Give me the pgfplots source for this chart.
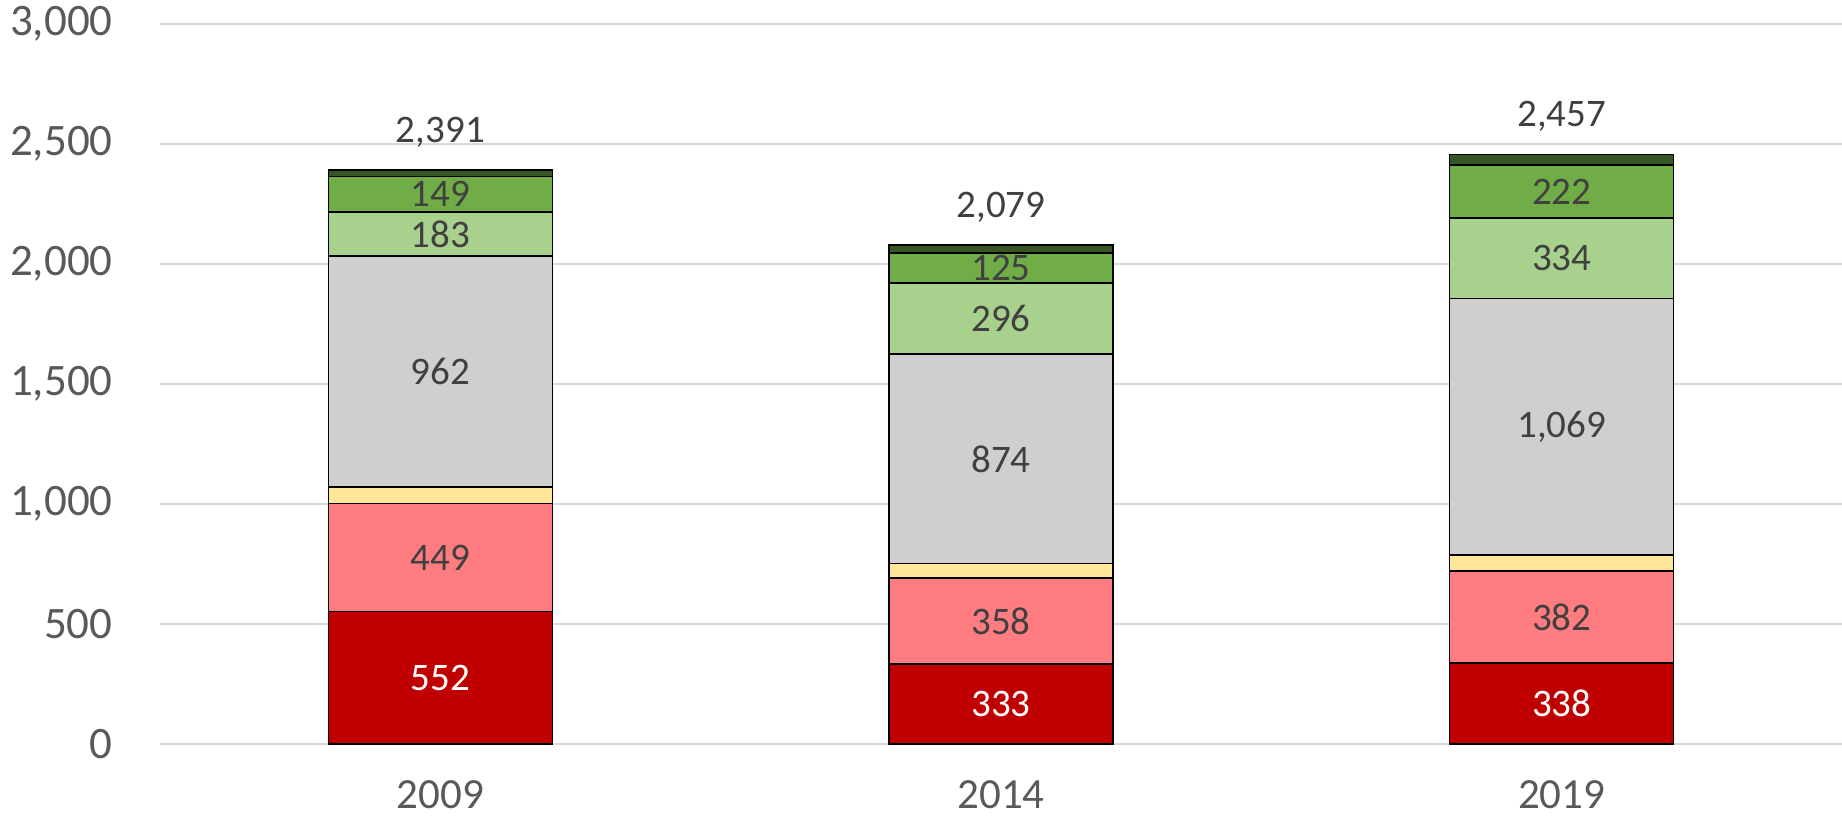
\documentclass[border=0pt]{standalone}
\usepackage{fontspec}
\setmainfont{Carlito}
\usepackage{pgfplots}
\pgfplotsset{compat=1.18}
\usepackage{pgfplotstable}

\definecolor{cDR}{HTML}{C00000}
\definecolor{cLR}{HTML}{FF7C80}
\definecolor{cYE}{HTML}{FFE699}
\definecolor{cGR}{HTML}{D0CECE}
\definecolor{cLG}{HTML}{A9D18E}
\definecolor{cGN}{HTML}{70AD47}
\definecolor{cDG}{HTML}{375623}
\definecolor{gridc}{HTML}{D9D9D9}
\definecolor{tickc}{HTML}{595959}
\definecolor{labc}{HTML}{404040}

\pgfplotstableread{
x dr lr ye gr lg gn dg
0 552 449 70 962 183 149 26
1 333 358 60 874 296 125 33
2 338 382 68 1069 334 222 44
}\data

% segment labels (value, centre of segment)
\pgfplotstableread{
x y v
0 776.5 449
0 1552 962
0 2124.5 183
0 2290.5 149
1 512 358
1 1188 874
1 1773 296
1 1983.5 125
2 529 382
2 1322.5 1069
2 2024 334
2 2302 222
}\labs

\pgfplotstableread{
x y v
0 276 552
1 166.5 333
2 169 338
}\wlabs

\pgfplotstableread{
x y
0 2391
1 2079
2 2457
}\totals

\pgfplotsset{
  /pgf/number format/.cd, 1000 sep={,}, assume math mode=true,
  /pgfplots/.cd,
  base/.style={width=841pt, height=360pt, scale only axis, at={(0,0)}, anchor=south west,
    xmin=-0.5, xmax=2.5, ymin=0, ymax=3000, clip=false},
}

\begin{document}
\begin{tikzpicture}
\begin{axis}[base,
  ybar stacked, bar width=112pt,
  ytick={0,500,...,3000},
  xtick={0,1,2}, xticklabels={2009,2014,2019},
  ymajorgrids, grid style={draw=gridc, line width=1pt},
  axis line style={draw=none},
  major tick length=0pt,
  tick label style={text=tickc},
  yticklabel style={font=\fontsize{22.5}{25}\selectfont, inner sep=0pt, anchor=east, xshift=-23.5pt},
  xticklabel style={font=\fontsize{21.5}{24}\selectfont, inner sep=0pt, anchor=north, yshift=-18pt},
]
\addplot[fill=cDR, draw=black, line width=0.7pt] table[x=x,y=dr]{\data};
\addplot[fill=cLR, draw=black, line width=0.7pt] table[x=x,y=lr]{\data};
\addplot[fill=cYE, draw=black, line width=0.7pt] table[x=x,y=ye]{\data};
\addplot[fill=cGR, draw=black, line width=0.7pt] table[x=x,y=gr]{\data};
\addplot[fill=cLG, draw=black, line width=0.7pt] table[x=x,y=lg]{\data};
\addplot[fill=cGN, draw=black, line width=0.7pt] table[x=x,y=gn]{\data};
\addplot[fill=cDG, draw=black, line width=0.7pt] table[x=x,y=dg]{\data};
\end{axis}
\begin{axis}[base, hide axis]
\addplot[draw=none, mark=none, nodes near coords, point meta=explicit,
  every node near coord/.append style={anchor=center, inner sep=0pt, text=labc, font=\fontsize{19.5}{22}\selectfont}]
  table[x=x,y=y,meta=v]{\labs};
\addplot[draw=none, mark=none, nodes near coords, point meta=explicit,
  every node near coord/.append style={anchor=center, inner sep=0pt, text=white, font=\fontsize{19.5}{22}\selectfont}]
  table[x=x,y=y,meta=v]{\wlabs};
\addplot[draw=none, mark=none, nodes near coords, point meta=y,
  every node near coord/.append style={anchor=base, inner sep=0pt, yshift=14pt, text=labc, font=\fontsize{19.5}{22}\selectfont}]
  table[x=x,y=y]{\totals};
\end{axis}
\pgfresetboundingbox
\path[use as bounding box] (-80pt,-36.5pt) rectangle (841pt,372pt);
\end{tikzpicture}
\end{document}
